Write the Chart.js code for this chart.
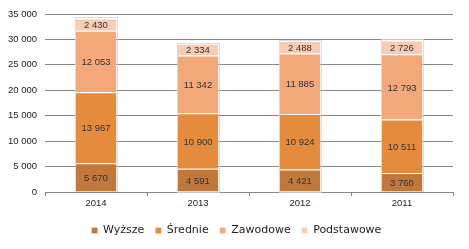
<!DOCTYPE html>
<html lang="pl">
<head>
<meta charset="UTF-8">
<script src="https://cdn.jsdelivr.net/npm/chart.js"></script>
<style>
  html, body { margin: 0; padding: 0; background: #ffffff; }
  #wrap { width: 469px; height: 249px; }
</style>
</head>
<body>
<div id="wrap"><canvas id="wyksztalcenie" width="469" height="249"></canvas></div>
<script>
    var lata = ['2014', '2013', '2012', '2011'];
    var wyzsze = [5670, 4591, 4421, 3760];
    var srednie = [13967, 10900, 10924, 10511];
    var zawodowe = [12053, 11342, 11885, 12793];
    var podstawowe = [2430, 2334, 2488, 2726];
    var osY = [0, 5000, 10000, 15000, 20000, 25000, 30000, 35000];

    function spacja(v) {
        return String(v).replace(/\B(?=(\d{3})+(?!\d))/g, ' ');
    }

    // wartosci na slupkach + lekka ramka wokol calego slupka
    var etykiety = {
        id: 'etykiety',
        afterLayout: function (chart) {
            // legenda wysrodkowana wzgledem calego obrazka
            chart.legend.left += 10;
            chart.legend.right += 10;
        },
        afterDatasetsDraw: function (chart) {
            var ctx = chart.ctx;
            var meta0 = chart.getDatasetMeta(0);
            var metaN = chart.getDatasetMeta(chart.data.datasets.length - 1);
            ctx.save();
            ctx.strokeStyle = 'rgba(200,215,235,0.8)';
            ctx.lineWidth = 1;
            for (var i = 0; i < meta0.data.length; i++) {
                var b = meta0.data[i], t = metaN.data[i];
                var x0 = Math.round(b.x - b.width / 2) - 0.5;
                var w = Math.round(b.width) + 1;
                ctx.strokeRect(x0, Math.round(t.y) - 0.5, w, Math.round(b.base - t.y) + 1);
            }
            ctx.font = '9.5px "Liberation Sans", Arial, sans-serif';
            ctx.fillStyle = '#333333';
            ctx.textAlign = 'center';
            ctx.textBaseline = 'middle';
            chart.data.datasets.forEach(function (ds, di) {
                chart.getDatasetMeta(di).data.forEach(function (el, i) {
                    ctx.fillText(spacja(ds.data[i]), el.x, (el.y + el.base) / 2 + 1);
                });
            });
            ctx.restore();
        }
    };

    var wykres = new Chart(document.getElementById('wyksztalcenie'), {
        type: 'bar',
        data: {
            labels: lata,
            datasets: [
                { label: 'Wyższe', data: wyzsze, backgroundColor: '#c0783c' },
                { label: 'Średnie', data: srednie, backgroundColor: '#e58b3e' },
                { label: 'Zawodowe', data: zawodowe, backgroundColor: '#f2a878' },
                { label: 'Podstawowe', data: podstawowe, backgroundColor: '#f8cbb4' }
            ]
        },
        options: {
            responsive: false,
            animation: false,
            devicePixelRatio: 1,
            layout: { padding: { left: 0, right: 16, top: 14, bottom: 3 } },
            datasets: {
                bar: {
                    categoryPercentage: 1,
                    barPercentage: 0.4,
                    borderColor: '#ffffff',
                    borderWidth: { top: 1 },
                    borderSkipped: false
                }
            },
            plugins: {
                legend: {
                    position: 'bottom',
                    labels: {
                        boxWidth: 6,
                        boxHeight: 6,
                        padding: 11,
                        color: '#222222',
                        font: { family: '"DejaVu Sans", sans-serif', size: 11 }
                    }
                },
                tooltip: { enabled: false }
            },
            scales: {
                x: {
                    stacked: true,
                    afterFit: function (s) { s.height = 22; },
                    grid: {
                        offset: true,
                        drawOnChartArea: false,
                        drawTicks: true,
                        tickLength: 4,
                        color: '#868686'
                    },
                    border: { color: '#868686' },
                    ticks: {
                        color: '#222222',
                        padding: 2,
                        font: { family: '"Liberation Sans", Arial, sans-serif', size: 9.5 }
                    }
                },
                y: {
                    stacked: true,
                    min: 0,
                    max: 35000,
                    afterFit: function (s) { s.width = 45; },
                    afterBuildTicks: function (s) {
                        s.ticks = osY.map(function (v) { return { value: v }; });
                    },
                    grid: { color: '#868686', drawTicks: false },
                    border: { display: false },
                    ticks: {
                        color: '#222222',
                        padding: 8,
                        callback: function (v) { return spacja(v); },
                        font: { family: '"Liberation Sans", Arial, sans-serif', size: 9.5 }
                    }
                }
            }
        },
        plugins: [etykiety]
    });
</script>
</body>
</html>
